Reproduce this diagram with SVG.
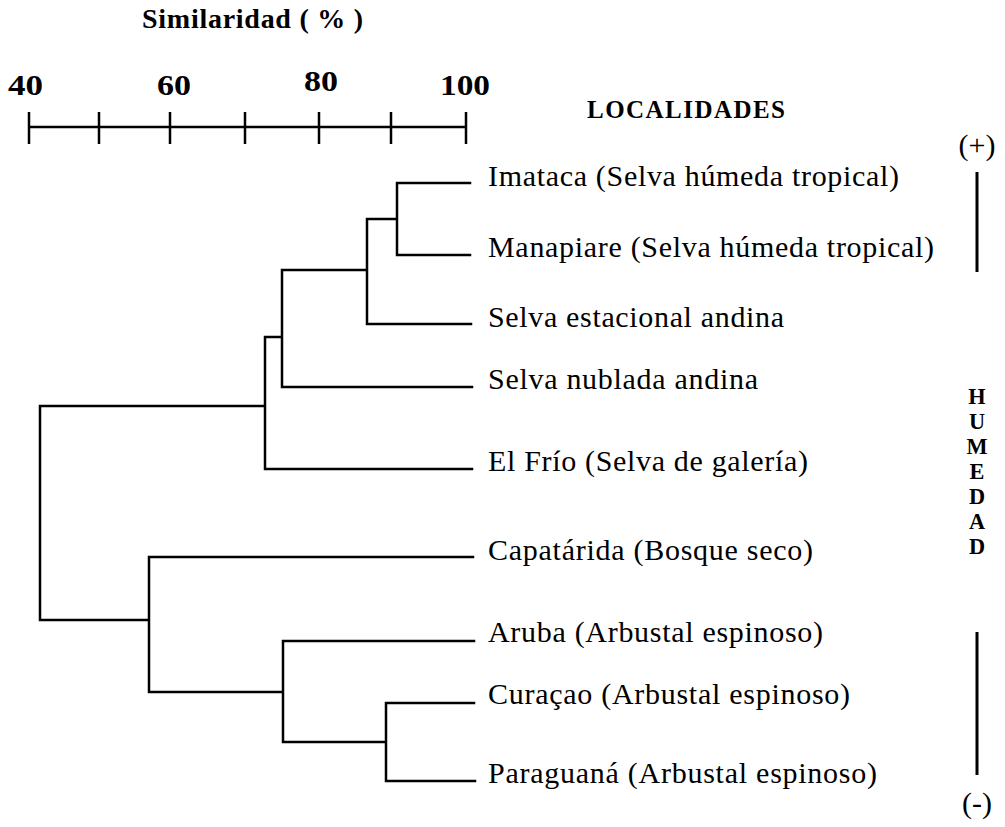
<svg xmlns="http://www.w3.org/2000/svg" width="1005" height="827" viewBox="0 0 1005 827">
<style>
.ln{fill:none;stroke:#000;stroke-width:2.5;stroke-linecap:square}
.ax{fill:none;stroke:#000;stroke-width:2.5}
.lbl{font-family:"Liberation Serif","Times New Roman",serif;font-size:30px;fill:#000}
.sgn{font-family:"Liberation Serif","Times New Roman",serif;font-size:30px;fill:#000}
.bold{font-family:"Liberation Serif","Times New Roman",serif;font-weight:bold;fill:#000}
.num{font-size:30px}
.ttl{font-size:28px}
.hdr{font-size:25px}
.vert{font-size:22.3px;writing-mode:vertical-rl;text-orientation:upright}
</style>
<rect width="1005" height="827" fill="#fff"/>
<g id="axis">
<text class="bold ttl" x="142" y="28" textLength="221" lengthAdjust="spacing">Similaridad ( % )</text>
<text class="bold num" x="8" y="95" textLength="35" lengthAdjust="spacingAndGlyphs">40</text>
<text class="bold num" x="157" y="95" textLength="34" lengthAdjust="spacingAndGlyphs">60</text>
<text class="bold num" x="304" y="91" textLength="34" lengthAdjust="spacingAndGlyphs">80</text>
<text class="bold num" x="440" y="95" textLength="50" lengthAdjust="spacingAndGlyphs">100</text>
<path class="ax" d="M29 127H466M29 112V144M99 112V144M170 112V144M245 112V144M319 112V144M391 112V144M466 112V144"/>
</g>
<g id="header">
<text class="bold hdr" x="587" y="118" textLength="198" lengthAdjust="spacing">LOCALIDADES</text>
</g>
<g id="connectors">
<path class="ln" d="M470 183H397V255H470M397 219H367V324H471M367 270H282V387H472M282 337H265V469H472M265 406H40V620H149M473 557H149V692H283M474 641H283V742H386M474 703H386V781H475"/>
</g>
<g id="leaf-imataca"><text class="lbl" x="488" y="186" textLength="411" lengthAdjust="spacing">Imataca (Selva húmeda tropical)</text></g>
<g id="leaf-manapiare"><text class="lbl" x="488" y="257" textLength="446" lengthAdjust="spacing">Manapiare (Selva húmeda tropical)</text></g>
<g id="leaf-estacional"><text class="lbl" x="488" y="327" textLength="296" lengthAdjust="spacing">Selva estacional andina</text></g>
<g id="leaf-nublada"><text class="lbl" x="488" y="389" textLength="270" lengthAdjust="spacing">Selva nublada andina</text></g>
<g id="leaf-elfrio"><text class="lbl" x="488" y="471" textLength="320" lengthAdjust="spacing">El Frío (Selva de galería)</text></g>
<g id="leaf-capatarida"><text class="lbl" x="488" y="560" textLength="325" lengthAdjust="spacing">Capatárida (Bosque seco)</text></g>
<g id="leaf-aruba"><text class="lbl" x="488" y="642" textLength="335" lengthAdjust="spacing">Aruba (Arbustal espinoso)</text></g>
<g id="leaf-curacao"><text class="lbl" x="488" y="704" textLength="362" lengthAdjust="spacing">Curaçao (Arbustal espinoso)</text></g>
<g id="leaf-paraguana"><text class="lbl" x="488" y="783" textLength="389" lengthAdjust="spacing">Paraguaná (Arbustal espinoso)</text></g>
<g id="humedad">
<text class="sgn" x="977" y="155" text-anchor="middle">(+)</text>
<path d="M977 172V272M977 632V775" stroke="#000" stroke-width="3"/>
<text class="bold vert" x="977" y="384">HUMEDAD</text>
<text class="sgn" x="977" y="813" text-anchor="middle">(-)</text>
</g>
</svg>
